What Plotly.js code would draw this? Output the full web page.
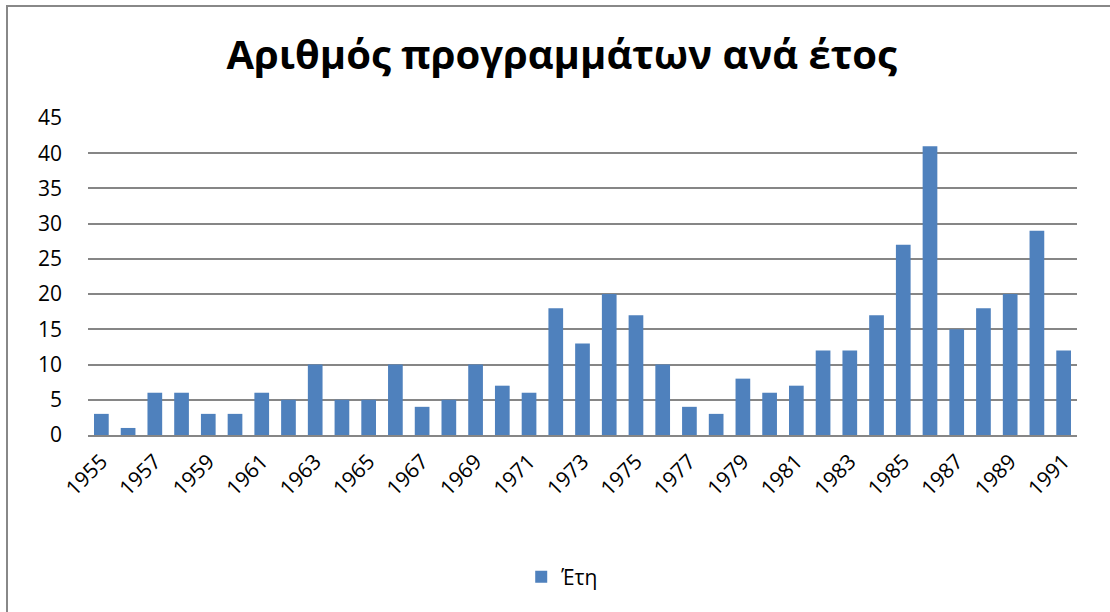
<!DOCTYPE html>
<html>
<head>
<meta charset="utf-8">
<script src="https://cdn.plot.ly/plotly-3.0.1.min.js"></script>
<style>
html,body{margin:0;padding:0;background:#fff;}
#wrap{position:relative;width:1110px;height:612px;overflow:hidden;}
#chart{width:1110px;height:612px;}
#frame{position:absolute;left:6px;top:5px;width:1120px;height:620px;border-left:2px solid #888;border-top:2px solid #888;pointer-events:none;}
</style>
</head>
<body>
<div id="wrap"><div id="chart"></div><div id="frame"></div></div>
<script>
const years = [1955,1956,1957,1958,1959,1960,1961,1962,1963,1964,1965,1966,1967,1968,1969,1970,1971,1972,1973,1974,1975,1976,1977,1978,1979,1980,1981,1982,1983,1984,1985,1986,1987,1988,1989,1990,1991];
const counts = [3,1,6,6,3,3,6,5,10,5,5,10,4,5,10,7,6,18,13,20,17,10,4,3,8,6,7,12,12,17,27,41,15,18,20,29,12];
const seriesName = 'Έτη';
const chartTitle = 'Αριθμός προγραμμάτων ανά έτος';
const tickYears = years.filter((y,i)=>i%2===0);

const font = '"Open Sans", "Noto Sans", sans-serif';
Plotly.newPlot('chart', [{
  type:'bar',
  x: years.map(String),
  y: counts,
  name: seriesName,
  marker:{color:'#4F81BD'},
  showlegend:true
}], {
  width:1110, height:612,
  margin:{l:88, r:33, t:118, b:177},
  paper_bgcolor:'#fff', plot_bgcolor:'#fff',
  bargap:0.45,
  title:{text:'<b>'+chartTitle+'</b>', font:{family:font, size:40, color:'#000'}, x:0.506, xanchor:'center', y:0.91, yanchor:'middle'},
  xaxis:{type:'category', tickmode:'array', tickvals:tickYears.map(String), ticktext:tickYears.map(String),
    tickangle:-45, tickfont:{family:font, size:21, color:'#000'}, showgrid:false,
    showline:true, linecolor:'#868686', linewidth:2, ticks:'', ticklabelstandoff:4, automargin:false},
  yaxis:{range:[0,45], dtick:5, tick0:0, showgrid:true, gridcolor:'#868686', gridwidth:2,
    tickfont:{family:font, size:21, color:'#000'}, zeroline:false, showline:false, ticks:'', ticklabelstandoff:25, automargin:false},
  legend:{orientation:'h', x:0.48, xanchor:'center', y:-0.448, yanchor:'middle', font:{family:font, size:21, color:'#000'}, itemwidth:30}
}, {displayModeBar:false, staticPlot:true});
</script>
</body>
</html>
